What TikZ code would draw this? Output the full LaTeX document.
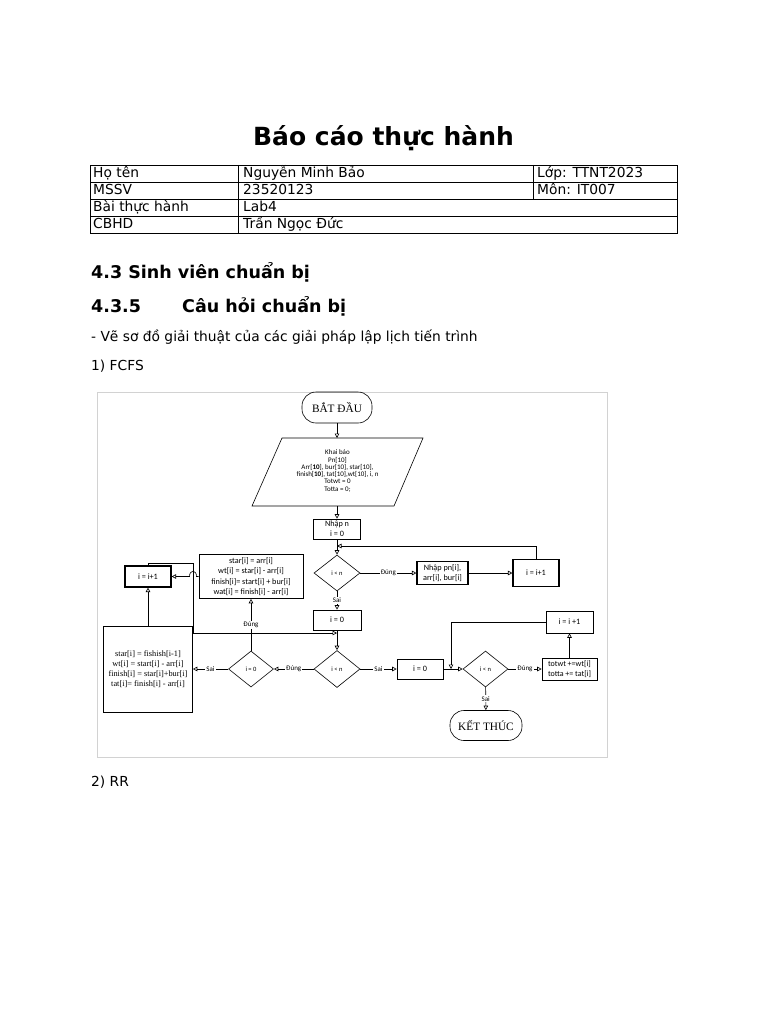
\documentclass[tikz,border=0pt]{standalone}
\usepackage{fontspec}
\setmainfont{DejaVu Sans}
\newfontfamily\calib{Carlito}
\newfontfamily\tnr{Liberation Serif}
\usetikzlibrary{positioning, arrows.meta, shapes.geometric}

\begin{document}
\begin{tikzpicture}[x=1pt, y=-1pt,
      body/.style={anchor=base west, inner sep=0pt, font=\fontsize{13.8}{16}\selectfont},
      head/.style={anchor=base west, inner sep=0pt, font=\bfseries\fontsize{17.5}{20}\selectfont},
      term/.style={draw, rounded corners=14pt, minimum width=70pt, minimum height=31pt, inner sep=0pt, line width=0.6pt, font=\tnr\fontsize{11.3}{13}\selectfont},
      proc/.style={draw, inner sep=0pt, align=center, line width=0.6pt, font=\calib\fontsize{8.2}{10.3}\selectfont},
      bold/.style={line width=1.1pt},
      dec/.style={draw, diamond, inner sep=0pt, minimum width=46pt, minimum height=37pt, line width=0.6pt, font=\calib\fontsize{6.5}{7}\selectfont},
      lbl/.style={fill=white, inner sep=1pt, font=\calib\fontsize{7}{8}\selectfont},
      arr/.style={-{Triangle[open, length=4.5pt, width=4.5pt]}, line width=0.6pt},
      ln/.style={line width=0.6pt}]
      \fill[white] (0,0) rectangle (768,1024);
      \useasboundingbox (0,0) rectangle (768,1024);

      \node[anchor=base, inner sep=0pt, font=\bfseries\fontsize{25}{30}\selectfont] (title) at (383.5,146) {Báo cáo thực hành};

      \draw[line width=0.8pt] (90,165) rectangle (677,233);
      \foreach \y in {182,199,216} \draw[line width=0.8pt] (90,\y) -- (677,\y);
      \draw[line width=0.8pt] (238,165) -- (238,233);
      \draw[line width=0.8pt] (533,165) -- (533,199);
      \node[body] (name)  at (93,178)  {Họ tên};
      \node[body] (namev) at (243,178) {Nguyễn Minh Bảo};
      \node[body] (cls)   at (537,178) {Lớp: TTNT2023};
      \node[body] (id)    at (93,195)  {MSSV};
      \node[body] (idv)   at (243,195) {23520123};
      \node[body] (subj)  at (537,195) {Môn: IT007};
      \node[body] (lab)   at (93,212)  {Bài thực hành};
      \node[body] (labv)  at (243,212) {Lab4};
      \node[body] (tut)   at (93,229)  {CBHD};
      \node[body] (tutv)  at (243,229) {Trần Ngọc Đức};

      \node[head] (sec)   at (91,278)  {4.3 Sinh viên chuẩn bị};
      \node[head] (subn)  at (91,312)  {4.3.5};
      \node[head] (sub)   at (182,312) {Câu hỏi chuẩn bị};
      \node[body] (task)  at (91,341)  {- Vẽ sơ đồ giải thuật của các giải pháp lập lịch tiến trình};
      \node[body] (fcfs)  at (91,370)  {1) FCFS};
      \node[body] (rr)    at (91,786)  {2) RR};

      \draw[gray!35, line width=0.8pt] (97,392) rectangle (607,757);

      \node[term] (start) at (337,407.5) {BẮT ĐẦU};
      \draw[line width=0.6pt] (282,438) -- (423,438) -- (394,506) -- (252,506) -- cycle;
      \coordinate (dtop) at (337,438);
      \coordinate (dbot) at (337,506);
      \node[align=center, inner sep=0pt, font=\calib\fontsize{7}{7.3}\selectfont] (decl) at (337.5,471)
            {Khai báo\\Pn[10]\\Arr[\textbf{10}], bur[10], star[10],\\finish[\textbf{10}], tat[10],wt[10], i, n\\Totwt = 0\\Totta = 0;};
      \node[proc, minimum width=47pt, minimum height=20pt] (nhapn) at (337,529) {Nhập n\\i = 0};
      \node[dec, minimum height=36pt] (cmp1) at (337,573) {i < n};
      \node[proc, bold, minimum width=51pt, minimum height=23pt] (nhappn) at (442.5,573) {Nhập pn[i],\\arr[i], bur[i]};
      \node[proc, bold, minimum width=46pt, minimum height=27pt] (inc1) at (536,573) {i = i+1};
      \node[proc, minimum width=48pt, minimum height=20pt] (zero1) at (337,620) {i = 0};
      \node[dec] (cmp2) at (337,669) {i < n};
      \node[dec, minimum width=45pt, minimum height=36pt] (iszero) at (251,669) {i = 0};
      \node[proc, minimum width=104pt, minimum height=44pt] (first) at (251,576.5)
            {star[i] = arr[i]\\wt[i] = star[i] - arr[i]\\finish[i]= start[i] + bur[i]\\wat[i] = finish[i] - arr[i]};
      \node[proc, bold, minimum width=46pt, minimum height=21pt] (inc2) at (148,576.5) {i = i+1};
      \node[proc, minimum width=89pt, minimum height=86pt, font=\tnr\fontsize{8.3}{10}\selectfont] (next) at (148,669)
            {star[i] = fishish[i-1]\\wt[i] = start[i] - arr[i]\\finish[i] = star[i]+bur[i]\\tat[i]= finish[i] - arr[i]};
      \node[proc, minimum width=46pt, minimum height=20pt] (zero2) at (420,669) {i = 0};
      \node[dec, minimum width=45pt, minimum height=36pt] (cmp3) at (485.5,669) {i < n};
      \node[proc, align=left, minimum width=55pt, minimum height=22pt, font=\calib\fontsize{8}{10}\selectfont] (sum) at (569.5,669)
            {totwt +=wt[i]\\totta += tat[i]};
      \node[proc, minimum width=47pt, minimum height=22pt] (inc3) at (569.5,622) {i = i +1};
      \node[term, minimum width=72pt, minimum height=30pt] (stop) at (486,725.5) {KẾT THÚC};

      \coordinate (m1) at (337,546);
      \coordinate (m2) at (337,633);
      \coordinate (m3) at (451,669);
      \coordinate (c1) at (193,563);
      \coordinate (hopR) at (196.5,576.5);
      \coordinate (hopL) at (189.5,576.5);

      \draw[arr] (start) -- (dtop);
      \draw[arr] (dbot) -- (nhapn);
      \draw[arr] (nhapn) -- (cmp1);
      \draw[arr] (cmp1) -- node[lbl]{Đúng} (nhappn);
      \draw[arr] (nhappn) -- (inc1);
      \draw[arr] (inc1.north) |- (m1);
      \draw[arr] (cmp1) -- node[lbl]{Sai} (zero1);
      \draw[arr] (zero1) -- (cmp2);
      \draw[arr] (cmp2) -- node[lbl]{Đúng} (iszero);
      \draw[arr] (iszero) -- node[lbl]{Sai} (next);
      \draw[arr] (iszero) -- node[lbl]{Đúng} (first);
      \draw[arr] (first.west) -- (hopR) .. controls (196.5,569.5) and (189.5,569.5) .. (hopL) -- (inc2.east);
      \draw[arr] (next) -- (inc2);
      \draw[arr] (inc2.north) |- (c1) |- (m2);
      \draw[arr] (cmp2) -- node[lbl]{Sai} (zero2);
      \draw[arr] (zero2) -- (cmp3);
      \draw[arr] (cmp3) -- node[lbl]{Đúng} (sum);
      \draw[arr] (sum) -- (inc3);
      \draw[arr] (inc3.west) -| (m3);
      \draw[arr] (cmp3) -- node[lbl]{Sai} (stop);
    \end{tikzpicture}
\end{document}
